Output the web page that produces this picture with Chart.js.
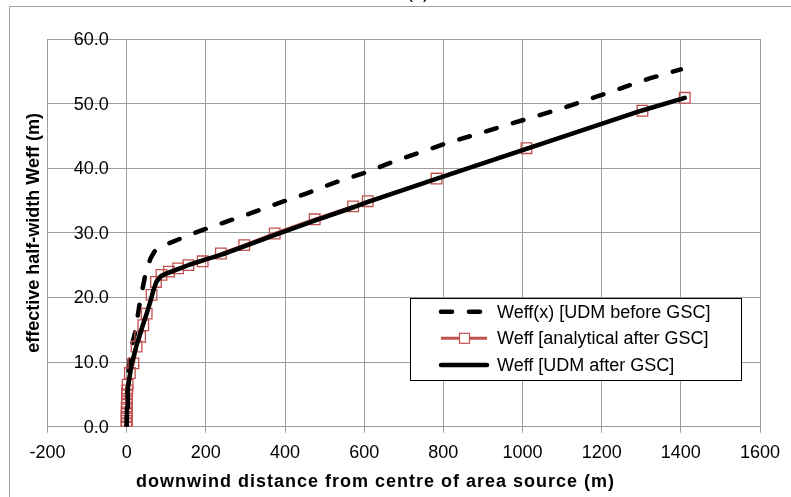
<!DOCTYPE html>
<html>
<head>
<meta charset="utf-8">
<script src="https://cdn.jsdelivr.net/npm/chart.js@4.4.1/dist/chart.umd.min.js"></script>
<style>
  html, body { margin: 0; padding: 0; background: #ffffff; }
  #wrap { position: relative; width: 791px; height: 497px; overflow: hidden; }
</style>
</head>
<body>
<div id="wrap"><canvas id="c"></canvas></div>
<script>
// ---- data ----
const seriesNames = ['Weff(x) [UDM before GSC]', 'Weff [analytical after GSC]', 'Weff [UDM after GSC]'];

const udmBeforeX = [0, 1, 4, 8, 14, 21, 27, 33, 40, 46, 52, 60, 70, 80, 108, 168, 227, 303, 370, 455, 522, 597, 673, 800, 950, 1107, 1183, 1250, 1321, 1400];
const udmBeforeY = [0, 5, 8, 10.8, 12.8, 14.5, 16.8, 19.1, 21.3, 23.2, 24.5, 26.0, 27.1, 27.7, 28.4, 29.9, 31.2, 32.8, 34.3, 36.1, 37.7, 39.2, 41.0, 43.7, 46.5, 49.4, 51.0, 52.4, 53.9, 55.3];

const analyticalX = [0, 0, 0, 0, 0, 0.3, 0.5, 0.8, 1, 1.5, 2.5, 8, 17, 25, 34, 42, 50.5, 63, 74, 88, 107, 130, 156, 192, 238, 297, 374, 475, 572, 609, 783, 1010, 1303, 1410];
const analyticalY = [0, 0.4, 0.9, 1.5, 2.2, 2.9, 3.6, 4.3, 5.0, 5.6, 6.5, 8.3, 9.8, 12.4, 13.9, 15.7, 17.5, 20.4, 22.4, 23.5, 24.0, 24.5, 25.0, 25.6, 26.8, 28.1, 29.9, 32.1, 34.1, 34.9, 38.4, 43.1, 48.9, 50.9];

const udmAfterX = [0, 1, 3, 12, 25, 38, 50, 60, 68, 75, 85, 100, 130, 160, 200, 244, 300, 375, 475, 575, 610, 780, 1010, 1300, 1410];
const udmAfterY = [0, 3, 6, 9.5, 12.6, 15.2, 17.4, 19.4, 21.2, 22.4, 23.2, 23.7, 24.4, 25.1, 25.9, 26.7, 28.0, 29.7, 31.9, 34.0, 34.8, 38.3, 43.0, 48.9, 50.9];

const xTickLabels = ['-200', '0', '200', '400', '600', '800', '1000', '1200', '1400', '1600'];
const yTickLabels = ['0.0', '10.0', '20.0', '30.0', '40.0', '50.0', '60.0'];

const xTitle = 'downwind distance from centre of area source (m)';
const yTitle = 'effective half-width Weff (m)';
const chartTitle = '(a)';

// ---- helpers ----
const toPts = (xs, ys) => xs.map((x, i) => ({ x: x, y: ys[i] }));
const FONT = '"Liberation Sans", Arial, sans-serif';
const GRID = '#9c9c9c';
const RED = '#c0504d';

function fillSpaced(ctx, text, cx, cy, targetW) {
  const w = ctx.measureText(text).width;
  const extra = (targetW - w) / Math.max(1, text.length - 1);
  if ('letterSpacing' in ctx && extra > 0) {
    ctx.letterSpacing = extra + 'px';
    const w2 = ctx.measureText(text).width;
    ctx.textAlign = 'left';
    ctx.fillText(text, cx - (w2 - extra) / 2, cy);
    ctx.letterSpacing = '0px';
    ctx.textAlign = 'center';
  } else {
    ctx.fillText(text, cx, cy);
  }
}

const overlay = {
  id: 'overlay',
  afterDraw(chart) {
    const ctx = chart.ctx;
    const xs = chart.scales.x, ys = chart.scales.y;
    ctx.save();
    // outer frame (partly cut off)
    ctx.strokeStyle = '#a0a0a0';
    ctx.lineWidth = 1;
    ctx.beginPath();
    ctx.moveTo(9.5, 497); ctx.lineTo(9.5, 6.5); ctx.lineTo(791, 6.5);
    ctx.stroke();
    // cut-off title
    ctx.fillStyle = '#000';
    ctx.font = '18px ' + FONT;
    ctx.textAlign = 'center';
    ctx.textBaseline = 'alphabetic';
    ctx.fillText(chartTitle, 418, -2);
    // y tick labels next to the axis at x = 0
    const x0 = xs.getPixelForValue(0);
    ctx.textAlign = 'right';
    ctx.textBaseline = 'middle';
    ys.ticks.forEach((t, i) => {
      ctx.fillText(yTickLabels[i], x0 - 18, ys.getPixelForValue(t.value) + 1);
    });
    // axis titles
    ctx.font = 'bold 18px ' + FONT;
    ctx.textAlign = 'center';
    fillSpaced(ctx, xTitle, 375, 482, 478);
    ctx.save();
    ctx.translate(34, (chart.chartArea.top + chart.chartArea.bottom) / 2);
    ctx.rotate(-Math.PI / 2);
    ctx.fillText(yTitle, 0, 0);
    ctx.restore();
    // legend box
    const bx = 410.5, by = 298.5, bw = 331, bh = 82;
    ctx.fillStyle = '#fff';
    ctx.fillRect(bx, by, bw, bh);
    ctx.strokeStyle = '#000';
    ctx.lineWidth = 1;
    ctx.strokeRect(bx, by, bw, bh);
    const rows = [311.7, 338.3, 365];
    const ds = chart.data.datasets;
    [0, 1, 2].forEach((di, r) => {
      const d = ds[di];
      const y = rows[r];
      ctx.save();
      ctx.strokeStyle = d.borderColor;
      ctx.lineWidth = d.borderWidth;
      ctx.lineCap = d.borderCapStyle || 'butt';
      ctx.setLineDash(d.borderDash || []);
      ctx.beginPath();
      ctx.moveTo(441, y); ctx.lineTo(487, y);
      ctx.stroke();
      ctx.setLineDash([]);
      if (d.pointRadius > 0) {
        ctx.fillStyle = '#fff';
        ctx.strokeStyle = d.pointBorderColor;
        ctx.lineWidth = 1.2;
        ctx.fillRect(459.5, y - 5, 10, 10);
        ctx.strokeRect(459.5, y - 5, 10, 10);
      }
      ctx.restore();
      ctx.fillStyle = '#000';
      ctx.font = '18px ' + FONT;
      ctx.textAlign = 'left';
      ctx.textBaseline = 'middle';
      ctx.fillText(d.label, 497, y + 1);
    });
    ctx.restore();
  }
};

new Chart(document.getElementById('c'), {
  type: 'scatter',
  data: {
    datasets: [
      {
        label: seriesNames[0],
        data: toPts(udmBeforeX, udmBeforeY),
        showLine: true,
        borderColor: '#000',
        borderWidth: 4.5,
        borderDash: [11, 17],
        borderCapStyle: 'round',
        pointRadius: 0,
        order: 2
      },
      {
        label: seriesNames[1],
        data: toPts(analyticalX, analyticalY),
        showLine: true,
        borderColor: RED,
        borderWidth: 3,
        pointStyle: 'rect',
        pointRadius: 7.5,
        pointBorderColor: RED,
        pointBackgroundColor: 'rgba(0,0,0,0)',
        pointBorderWidth: 1.3,
        order: 1
      },
      {
        label: seriesNames[2],
        data: toPts(udmAfterX, udmAfterY),
        showLine: true,
        borderColor: '#000',
        borderWidth: 4.5,
        borderCapStyle: 'round',
        borderJoinStyle: 'round',
        pointRadius: 0,
        order: 0
      }
    ]
  },
  options: {
    responsive: true,
    maintainAspectRatio: false,
    animation: false,
    devicePixelRatio: 1,
    layout: { padding: { left: 47.5, right: 31, top: 39, bottom: 0 } },
    plugins: { legend: { display: false }, tooltip: { enabled: false }, title: { display: false } },
    scales: {
      x: {
        type: 'linear',
        position: 'bottom',
        min: -200, max: 1600,
        afterFit: (s) => { s.height = 70.3; },
        ticks: {
          stepSize: 200,
          color: '#000',
          font: { family: FONT, size: 18 },
          padding: 10,
          maxRotation: 0,
          callback: (v, i) => xTickLabels[i]
        },
        grid: { color: GRID, lineWidth: 1, tickLength: 6, drawTicks: true },
        border: { color: GRID, width: 1 }
      },
      y: {
        type: 'linear',
        position: 'left',
        min: 0, max: 60,
        ticks: { stepSize: 10, display: false },
        grid: { color: GRID, lineWidth: 1, drawTicks: false },
        border: { color: GRID, width: 1 }
      }
    }
  },
  plugins: [overlay]
});
</script>
</body>
</html>
